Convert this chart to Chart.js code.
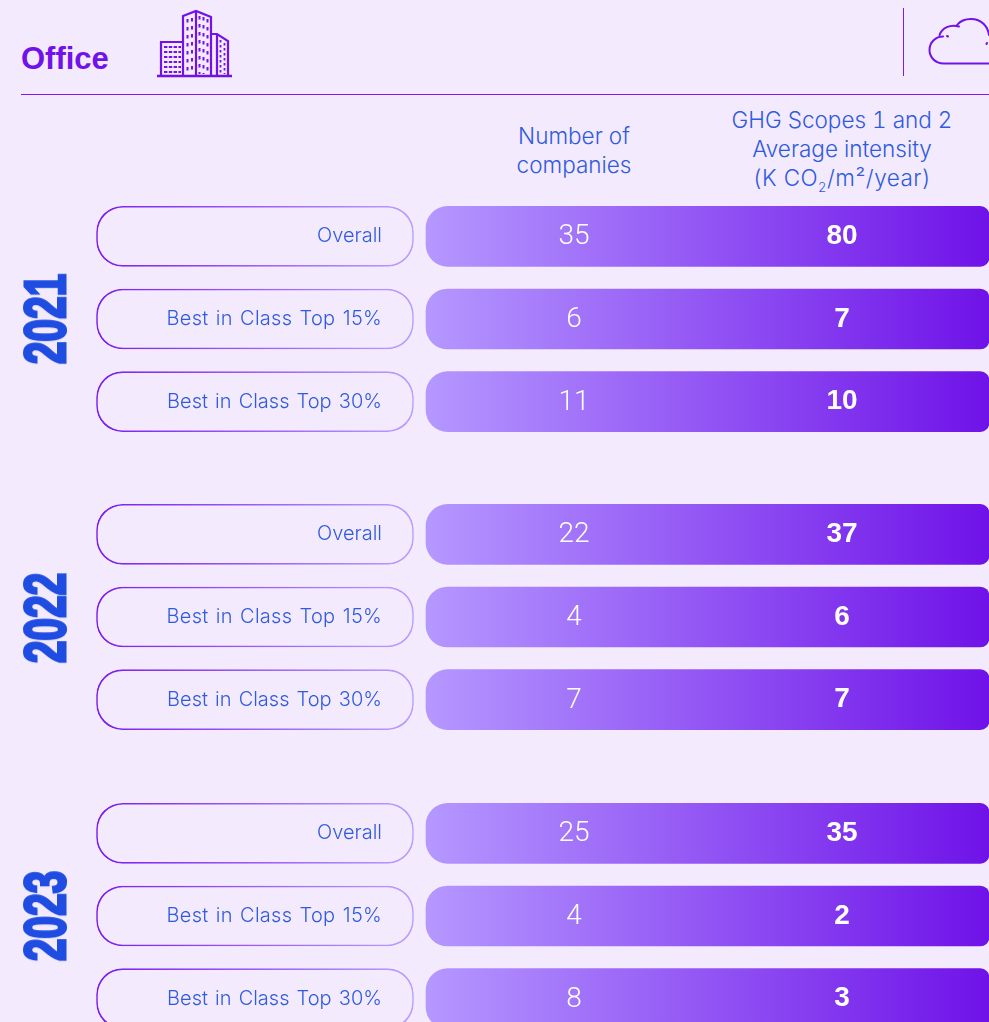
<!DOCTYPE html>
<html>
<head>
<meta charset="utf-8">
<script src="https://cdn.jsdelivr.net/npm/chart.js@4"></script>
<style>
  html, body { margin: 0; padding: 0; width: 989px; height: 1022px; overflow: hidden; background: #f4eafd; }
  body { position: relative; font-family: Inter, "Noto Sans", sans-serif; }
  .abs { position: absolute; }
  #office { left: 21px; top: 41px; font: bold 31px "Liberation Sans", sans-serif; color: #7211ea; line-height: 36px; }
  #linea { left: 21px; top: 93.8px; width: 968px; height: 1.2px; background: #7a1cf0; }
  #vert { left: 903px; top: 8px; width: 1.2px; height: 68px; background: #7a1cf0; }
  .head { color: #2f5be0; font-size: 22.5px; font-weight: 300; line-height: 29px; text-align: center; white-space: nowrap; font-feature-settings: "tnum"; }
  .head sub { font-size: 13px; line-height: 0; }
  canvas { position: absolute; left: 0; display: block; }
  .anio { color: #1f4de2; font: bold 58px "Liberation Sans Narrow", "Liberation Sans", sans-serif; -webkit-text-stroke: 3px #1f4de2; line-height: 58px; white-space: nowrap; }
</style>
</head>
<body>
<div class="abs" id="office">Office</div>
<svg class="abs" style="left:150px;top:5px" width="90" height="76" viewBox="150 5 90 76" fill="none" stroke="#7211ea" stroke-width="2.2">
  <path d="M157 76 H232" stroke-width="2.6"/>
  <path d="M161 76 V42 H183"/>
  <path d="M183 76 V16 L196 11 L211 17 V76"/>
  <path d="M196 11 V76"/>
  <path d="M211 34 H217 L228 41 V76"/>
  <path d="M217 34 V76"/>
  <path d="M164 47 H181 M164 52 H181 M164 57 H181 M164 62 H181 M164 67 H181 M164 72 H181" stroke-dasharray="3.4 1.4" stroke-width="1.8"/>
  <path d="M187.5 19 V74 M192 18 V74 M199.5 16 V74 M203.5 17 V74 M207.5 19 V74" stroke-dasharray="3.5 4.5" stroke-width="2"/>
  <path d="M220.5 40 V74 M224.5 43 V74" stroke-dasharray="2.5 2.5" stroke-width="1.8"/>
</svg>
<div class="abs" id="vert"></div>
<svg class="abs" style="left:920px;top:10px" width="69" height="60" viewBox="920 10 69 60" fill="none" stroke="#7211ea" stroke-width="2" stroke-linecap="round">
  <path d="M990 63.5 H944 C934 63.5 929.5 56 929.5 50 C929.5 42 936 36.5 943 36.5"/>
  <path d="M939.5 35 C942 28 950 24 959 26.5"/>
  <path d="M957 25 C961 20 966 19 971 19 C982 19 988 27 989 35"/>
  <path d="M947 36 L948 36.5 M987 43 L986.5 44"/>
</svg>
<div class="abs" id="linea"></div>
<div class="abs head" style="left:474px;width:200px;top:121px">Number of<br>companies</div>
<div class="abs head" style="left:692px;width:300px;top:105px">GHG Scopes 1 and 2<br>Average intensity<br><span style="letter-spacing:.5px">(K CO<sub>2</sub>/m²/year)</span></div>

<canvas id="chart-2021" width="989" height="248" style="top:195px"></canvas>
<canvas id="chart-2022" width="989" height="248" style="top:493px"></canvas>
<canvas id="chart-2023" width="989" height="248" style="top:792px"></canvas>

<script>
const anios = ["2021", "2022", "2023"];
const filas = ["Overall", "Best in Class Top 15%", "Best in Class Top 30%"];
const empresas = [[35, 6, 11], [22, 4, 7], [25, 4, 8]];
const intensidad = [[80, 7, 10], [37, 6, 7], [35, 2, 3]];

// the original is an infographic: every band has the same length, numbers are only labels
const PILL = [96.5, 413.5];
const BANDA = [426, 989];
const COL_FILA = 382;
const COL_EMPRESAS = 574;
const COL_INTENSIDAD = 842;

function gradiente(chart, desde, hasta, c1, c2) {
  const x = chart.scales.x;
  const g = chart.ctx.createLinearGradient(x.getPixelForValue(desde), 0, x.getPixelForValue(hasta), 0);
  g.addColorStop(0, c1);
  g.addColorStop(1, c2);
  return g;
}

const textos = {
  id: "textos",
  afterDatasetsDraw(chart, args, opts) {
    const { ctx, scales: { x, y } } = chart;
    ctx.save();
    ctx.textBaseline = "middle";
    filas.forEach((fila, i) => {
      const py = y.getPixelForValue(i);
      ctx.textAlign = "right";
      ctx.fillStyle = "#2f5be0";
      ctx.font = "300 20px Inter, sans-serif";
      ctx.wordSpacing = i === 0 ? "0px" : "1.5px";
      ctx.letterSpacing = i === 1 ? "0.25px" : "0px";
      ctx.fillText(fila, x.getPixelForValue(COL_FILA), py);
      ctx.wordSpacing = "0px";
      ctx.letterSpacing = "0px";
      ctx.textAlign = "center";
      ctx.fillStyle = "#ffffff";
      ctx.font = "300 28px Roboto, sans-serif";
      ctx.fillText(opts.empresas[i], x.getPixelForValue(COL_EMPRESAS), py + 1);
      ctx.font = "700 28px 'Liberation Sans', sans-serif";
      ctx.fillText(opts.intensidad[i], x.getPixelForValue(COL_INTENSIDAD), py);
    });
    ctx.restore();
  }
};

anios.forEach((anio, k) => {
  new Chart(document.getElementById("chart-" + anio), {
    type: "bar",
    plugins: [textos],
    data: {
      labels: filas,
      datasets: [
        {
          label: "Banda",
          data: filas.map(() => BANDA),
          backgroundColor: c => c.chart.chartArea ? gradiente(c.chart, BANDA[0], BANDA[1], "#b598ff", "#6f12e8") : "#8a3cf0",
          borderWidth: 0,
          borderSkipped: false,
          borderRadius: { topLeft: 22, bottomLeft: 22, topRight: 9, bottomRight: 9 }
        },
        {
          label: "Fila",
          data: filas.map(() => PILL),
          backgroundColor: "rgba(0,0,0,0)",
          borderColor: c => c.chart.chartArea ? gradiente(c.chart, PILL[0], PILL[1], "#7a1cf0", "#bb9fff") : "#8a3cf0",
          borderWidth: 0.9,
          borderSkipped: false,
          borderRadius: 26
        }
      ]
    },
    options: {
      indexAxis: "y",
      responsive: false,
      animation: false,
      events: [],
      grouped: false,
      barThickness: 60,
      layout: { padding: 0 },
      scales: {
        x: { type: "linear", min: 0, max: 989, display: false },
        y: { type: "category", display: false }
      },
      plugins: {
        legend: { display: false },
        tooltip: { enabled: false },
        textos: { empresas: empresas[k], intensidad: intensidad[k] }
      }
    }
  });
});

// vertical year labels
const centrosAnio = [319, 618, 916];
anios.forEach((anio, k) => {
  const d = document.createElement("div");
  d.className = "abs anio";
  d.textContent = anio;
  d.style.left = "45px";
  d.style.top = centrosAnio[k] + "px";
  d.style.transformOrigin = "0 0";
  d.style.transform = "rotate(-90deg) scaleX(0.7) translate(-50%, -50%)";
  document.body.appendChild(d);
});
</script>
</body>
</html>
